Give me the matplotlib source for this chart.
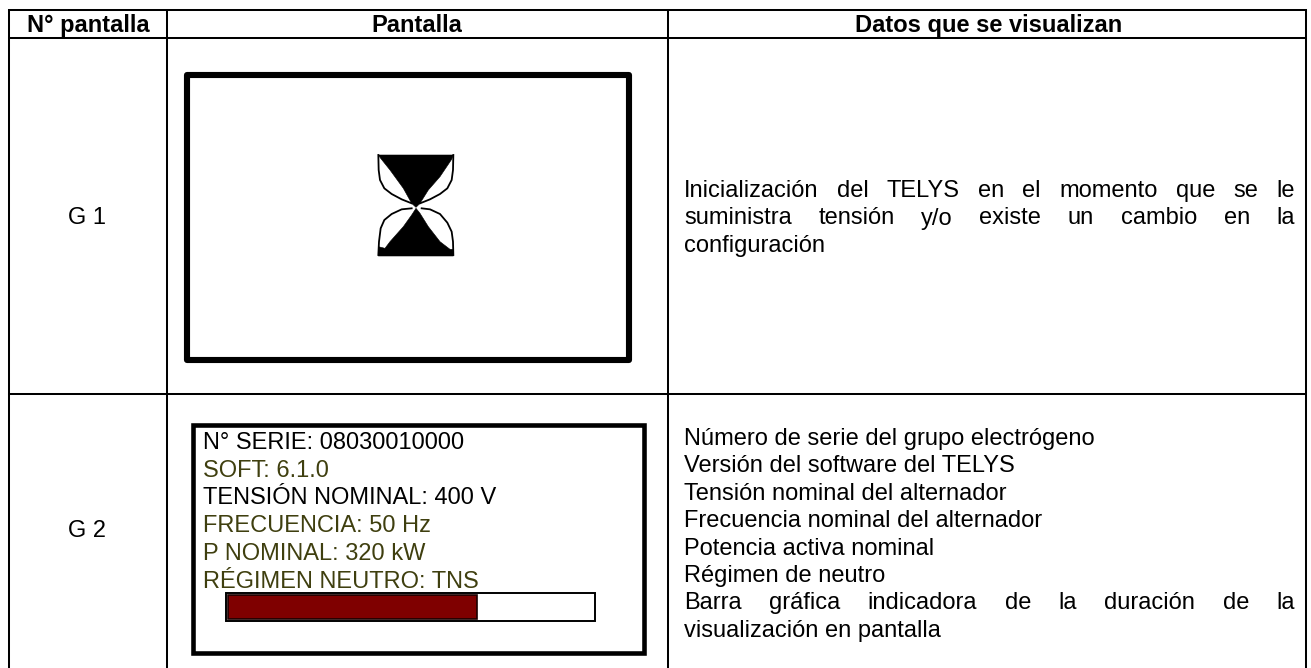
import matplotlib
matplotlib.use("Agg")
import matplotlib.pyplot as plt
from matplotlib.patches import Rectangle, Polygon

# table text
headers = ["N° pantalla", "Pantalla", "Datos que se visualizan"]
screen_ids = ["G 1", "G 2"]
g1_lines = [
    ("Inicialización del TELYS en el momento que se le", True),
    ("suministra tensión y/o existe un cambio en la", True),
    ("configuración", False),
]
g2_lines = [
    ("Número de serie del grupo electrógeno", False),
    ("Versión del software del TELYS", False),
    ("Tensión nominal del alternador", False),
    ("Frecuencia nominal del alternador", False),
    ("Potencia activa nominal", False),
    ("Régimen de neutro", False),
    ("Barra gráfica indicadora de la duración de la", True),
    ("visualización en pantalla", False),
]
screen_lines = [
    "N° SERIE: 08030010000",
    "SOFT: 6.1.0",
    "TENSIÓN NOMINAL: 400 V",
    "FRECUENCIA: 50 Hz",
    "P NOMINAL: 320 kW",
    "RÉGIMEN NEUTRO: TNS",
]
screen_colors = ["black", "#3f3f0f", "black", "#3f3f0f", "#3f3f0f", "#3f3f0f"]
bar_fraction = 0.682

plt.rcParams["font.family"] = ["Liberation Sans", "DejaVu Sans"]
FS = 17.0

fig = plt.figure(figsize=(13.11, 6.68), dpi=100)
ax = fig.add_axes([0, 0, 1, 1])
ax.set_xlim(0, 1311)
ax.set_ylim(668, 0)
ax.axis("off")
renderer = fig.canvas.get_renderer()


def text_width(s):
    t = ax.text(0, 0, s, fontsize=FS)
    w = t.get_window_extent(renderer).width
    t.remove()
    return w


def draw_line(line, justify, x0, x1, y):
    # justified lines get one text per word, spread out to the right margin
    if not justify:
        ax.text(x0, y, line, ha="left", va="baseline", fontsize=FS)
        return
    words = line.split(" ")
    widths = [text_width(w) for w in words]
    gap = (x1 - x0 - sum(widths)) / (len(words) - 1)
    x = x0
    for w, wd in zip(words, widths):
        ax.text(x, y, w, ha="left", va="baseline", fontsize=FS)
        x += wd + gap


# grid of the table
col_x = [8.5, 167, 667.5, 1305.5]
row_y = [9.5, 37.5, 393.5]
bottom = 668
for x in col_x:
    ax.plot([x, x], [row_y[0], bottom], color="black", lw=1.45, solid_capstyle="butt")
for y in row_y:
    ax.plot([col_x[0], col_x[-1]], [y, y], color="black", lw=1.45, solid_capstyle="projecting")

# header row
header_x = [88, 417, 989]
for x, h in zip(header_x, headers):
    ax.text(x, 32, h, ha="center", va="baseline", fontsize=FS, fontweight="bold")

# first column
ax.text(87, 224, screen_ids[0], ha="center", va="baseline", fontsize=FS)
ax.text(87, 537, screen_ids[1], ha="center", va="baseline", fontsize=FS)

# G1 screen frame
ax.add_patch(Rectangle((187, 75), 442, 285, fill=False, ec="black", lw=4.4, joinstyle="round"))


# hourglass icon, outline (offset 340,120, 3x)
def icon(pts):
    return [(340 + px / 3, 120 + py / 3) for px, py in pts]


top_sand = [(115, 105), (340, 105), (335, 118), (300, 170), (265, 210), (240, 250), (228, 262),
            (215, 250), (190, 205), (150, 150), (122, 115)]
bottom_sand = [(228, 265), (240, 280), (265, 320), (300, 365), (330, 388), (340, 388), (340, 408),
               (115, 408), (115, 380), (135, 385), (150, 365), (190, 320), (215, 285)]
leaves = [
    [(340, 105), (339, 150), (335, 180), (322, 205), (300, 222), (270, 238), (240, 250)],
    [(245, 265), (270, 268), (300, 282), (322, 308), (335, 335), (339, 365), (340, 405)],
    [(115, 105), (116, 150), (120, 180), (133, 205), (155, 222), (185, 238), (215, 250)],
    [(215, 265), (185, 268), (155, 282), (133, 300), (122, 325), (117, 365), (115, 405)],
]
ax.add_patch(Polygon(icon(top_sand), closed=True, fc="black", ec="black", lw=0.4))
ax.add_patch(Polygon(icon(bottom_sand), closed=True, fc="black", ec="black", lw=0.4))
for leaf in leaves:
    pts = icon(leaf)
    ax.plot([p[0] for p in pts], [p[1] for p in pts], color="black", lw=1.3)

# G2 screen frame
ax.add_patch(Rectangle((192.5, 424.5), 451, 228, fill=False, ec="black", lw=3.3))
for i, (line, c) in enumerate(zip(screen_lines, screen_colors)):
    ax.text(203, 449 + i * 27.7, line, ha="left", va="baseline", fontsize=FS, color=c)

# progress bar in G2 screen
bar_x, bar_y, bar_w, bar_h = 226, 593, 369, 28
ax.add_patch(Rectangle((bar_x, bar_y), bar_w, bar_h, fc="white", ec="black", lw=1.4))
ax.add_patch(Rectangle((bar_x + 2, bar_y + 2), (bar_w - 4) * bar_fraction, bar_h - 4,
                       fc="#7f0000", ec="#1a0000", lw=1.2))

# description column
for i, (line, justify) in enumerate(g1_lines):
    draw_line(line, justify, 684, 1295, 197 + i * 27.5)
for i, (line, justify) in enumerate(g2_lines):
    draw_line(line, justify, 684, 1295, 445 + i * 27.4)

fig.savefig("out.png", dpi=100)
